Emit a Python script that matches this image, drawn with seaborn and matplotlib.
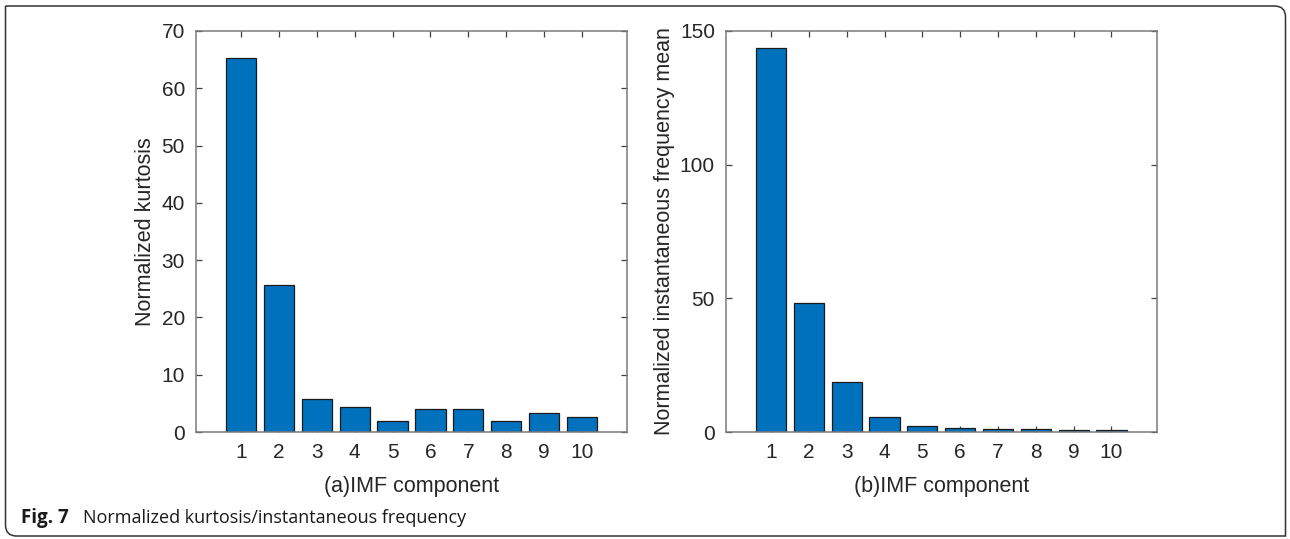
import numpy as np
import pandas as pd
import matplotlib
matplotlib.use("Agg")
import matplotlib.pyplot as plt
import matplotlib.transforms as mtransforms
from matplotlib.path import Path
from matplotlib.patches import PathPatch
import seaborn as sns

# IMF component indices and the two normalized features
components = [1, 2, 3, 4, 5, 6, 7, 8, 9, 10]
kurtosis = [65.3, 25.6, 5.8, 4.3, 1.9, 4.1, 4.0, 2.0, 3.3, 2.7]
inst_freq_mean = [143.8, 48.3, 18.7, 5.6, 2.4, 1.5, 1.1, 1.1, 0.9, 0.9]

left_yticks = [0, 10, 20, 30, 40, 50, 60, 70]
right_yticks = [0, 50, 100, 150]

sns.set_theme(style="white")
plt.rcParams["font.family"] = ["Liberation Sans", "DejaVu Sans"]

BAR = "#0072BD"
TXT = "#262626"
SPINE = "#7a7a7a"

W, H = 1290, 539
fig = plt.figure(figsize=(W / 100, H / 100), dpi=100)
fig.patch.set_facecolor("white")


def px_axes(x0, x1, ytop, ybot):
    return fig.add_axes([x0 / W, 1 - ybot / H, (x1 - x0) / W, (ybot - ytop) / H])


ax1 = px_axes(196, 627, 31, 432)
ax2 = px_axes(726, 1156.5, 31, 432)

df = pd.DataFrame({"IMF": [str(c) for c in components],
                   "kurt": kurtosis, "freq": inst_freq_mean})
order = [str(c) for c in components]

for ax, col, ymax, yt, xl, yl, lp in [
    (ax1, "kurt", 70, left_yticks, "(a)IMF component", "Normalized kurtosis", 4),
    (ax2, "freq", 150, right_yticks, "(b)IMF component",
     "Normalized instantaneous frequency mean", 3.5),
]:
    sns.barplot(data=df, x="IMF", y=col, order=order, ax=ax, color=BAR,
                saturation=1, width=0.8, edgecolor="#1a1a1a", linewidth=0.9)
    ax.set_xlim(-1.19, 9 + 1.19)
    ax.set_ylim(0, ymax)
    ax.set_yticks(yt)
    ax.set_xlabel(xl, fontsize=15.5, color=TXT, labelpad=10)
    ax.set_ylabel(yl, fontsize=15.5, color=TXT, labelpad=lp)
    ax.tick_params(axis="both", direction="in", length=4, width=0.9,
                   color="#404040", labelsize=15, labelcolor=TXT,
                   top=True, right=True, bottom=True, left=True, pad=8)
    for s in ax.spines.values():
        s.set_visible(True)
        s.set_color(SPINE)
        s.set_linewidth(1.1)

# caption
fig.text(21 / W, 1 - 518 / H, "Fig. 7", fontsize=13.5, fontweight="bold",
         family=["Open Sans", "DejaVu Sans"], color="#1a1a1a", va="center")
fig.text(83 / W, 1 - 518 / H, "Normalized kurtosis/instantaneous frequency",
         fontsize=13, family=["Open Sans", "DejaVu Sans"], color="#1a1a1a",
         va="center")

# frame around the figure, rounded at top-right and bottom-left
px = mtransforms.Affine2D().scale(1 / W, 1 / H) + fig.transFigure
L, R, B, T, r = 5.5, 1285.5, 3.0, 533.0, 11
verts = [(L, T), (R - r, T), (R, T), (R, T - r), (R, B), (L + r, B),
         (L, B), (L, B + r), (L, T)]
codes = [Path.MOVETO, Path.LINETO, Path.CURVE3, Path.CURVE3, Path.LINETO,
         Path.LINETO, Path.CURVE3, Path.CURVE3, Path.LINETO]
fig.add_artist(PathPatch(Path(verts, codes), transform=px, fill=False,
                         edgecolor="#333333", linewidth=1.1))

fig.savefig("out.png", dpi=100, facecolor="white")
